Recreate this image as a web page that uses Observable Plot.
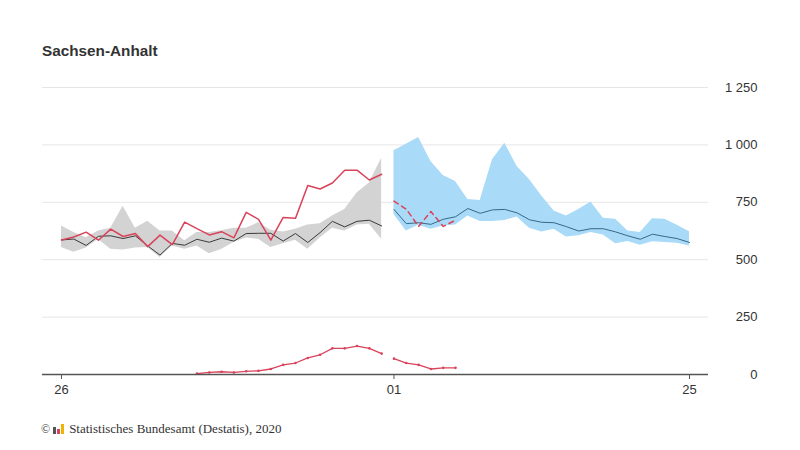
<!DOCTYPE html>
<html><head><meta charset="utf-8">
<script src="https://cdn.jsdelivr.net/npm/d3@7"></script>
<script src="https://cdn.jsdelivr.net/npm/@observablehq/plot@0.6"></script>
<style>
body{margin:0;background:#fff;font-family:"Liberation Sans",Arial,sans-serif;}
#title{position:absolute;left:42px;top:42px;font-size:15.3px;font-weight:bold;color:#333;}
#chart{position:absolute;left:0;top:70px;}
#caption{position:absolute;left:41px;top:421px;font-family:"Liberation Serif","Times New Roman",serif;font-size:13px;color:#333;display:flex;align-items:center;white-space:nowrap;}
#caption .c{font-size:12px;margin-right:3px;}
#caption svg{margin-right:4px;}
</style></head><body>
<div id="title">Sachsen-Anhalt</div>
<div id="chart"></div>
<div id="caption"><span class="c">©</span><svg width="12" height="10" viewBox="0 0 12 10"><rect x="0" y="3" width="3" height="7" fill="#555"/><rect x="4" y="5" width="3" height="5" fill="#d9435b"/><rect x="8" y="0" width="3" height="10" fill="#f0b400"/></svg>Statistisches Bundesamt (Destatis), 2020</div>
<script>
// weeks of the first half (previous year) and second half (following year)
const weeksLeft = [26,27,28,29,30,31,32,33,34,35,36,37,38,39,40,41,42,43,44,45,46,47,48,49,50,51,52];
const weeksRight = [1,2,3,4,5,6,7,8,9,10,11,12,13,14,15,16,17,18,19,20,21,22,23,24,25];

// range (min-max) and mean of earlier years, first half
const minLeft = [553,532,551,588,546,542,551,553,510,560,546,560,526,544,575,594,589,553,570,585,546,594,637,625,651,654,589];
const maxLeft = [647,618,596,625,637,733,637,668,625,625,582,618,618,626,637,637,661,628,621,633,651,657,690,719,791,834,942];
const avgLeft = [586,590,562,602,604,592,604,560,520,571,563,589,576,594,581,614,615,615,581,614,575,618,667,643,667,672,647];
// current year deaths, first half
const deathsLeft = [586,599,620,585,633,601,614,557,607,566,664,635,608,622,595,706,676,585,684,680,823,808,834,890,890,847,872];

// range (min-max) and mean of earlier years, second half
const minRight = [697,625,650,633,647,651,690,666,666,671,686,637,621,633,599,604,618,608,570,579,563,578,575,572,560];
const maxRight = [975,1003,1032,928,867,841,762,758,935,1007,906,849,777,712,690,719,751,680,676,625,618,678,676,650,622];
const avgRight = [719,657,661,654,676,687,723,702,717,719,704,674,663,661,644,625,635,635,621,604,589,611,601,592,575];
// preliminary deaths, second half (weeks 1-6)
const deathsRightWeeks = [1,2,3,4,5,6];
const deathsRight = [755,720,645,710,645,672];

// COVID-19 deaths
const covidWeeksLeft = [37,38,39,40,41,42,43,44,45,46,47,48,49,50,51,52];
const covidLeft = [4,9,12,9,14,16,24,42,50,72,86,114,114,124,114,91];
const covidWeeksRight = [1,2,3,4,5,6];
const covidRight = [69,50,42,24,29,29];

const yTicks = [0,250,500,750,1000,1250];
const xTickPos = [26, 1, 25];
const xTickLabels = ["26","01","25"];

// position along the axis: first half weeks 26..52, then weeks 1..25
const posL = w => w - 26;
const posR = w => 26 + w;
const xTicks = [posL(xTickPos[0]), posR(xTickPos[1]), posR(xTickPos[2])];

const left = weeksLeft.map((w,i)=>({x:posL(w), min:minLeft[i], max:maxLeft[i], avg:avgLeft[i], cur:deathsLeft[i]}));
const right = weeksRight.map((w,i)=>({x:posR(w), min:minRight[i], max:maxRight[i], avg:avgRight[i]}));
const curRight = deathsRightWeeks.map((w,i)=>({x:posR(w), y:deathsRight[i]}));
const covL = covidWeeksLeft.map((w,i)=>({x:posL(w), y:covidLeft[i]}));
const covR = covidWeeksRight.map((w,i)=>({x:posR(w), y:covidRight[i]}));

const red = "#d9435b";
const fmt = d => d3.format(",")(d).replace(/,/g, " ");

const chart = Plot.plot({
  width: 800,
  height: 340,
  marginLeft: 42,
  marginRight: 92,
  marginTop: 17,
  marginBottom: 36,
  style: {fontFamily: "'Liberation Sans', Arial, sans-serif", fontSize: "13px", color: "#333", background: "transparent"},
  x: {domain: [-1.543, 52.543], label: null},
  y: {domain: [0, 1250], label: null},
  marks: [
    Plot.ruleY(yTicks.filter(d => d > 0), {stroke: "#e6e6e6", strokeWidth: 1}),
    Plot.areaY(left, {x: "x", y1: "min", y2: "max", fill: "#d3d3d3", curve: "linear"}),
    Plot.areaY(right, {x: "x", y1: "min", y2: "max", fill: "#a9dbf8", curve: "linear"}),
    Plot.lineY(left, {x: "x", y: "avg", stroke: "#3a3a3a", strokeWidth: 1}),
    Plot.lineY(right, {x: "x", y: "avg", stroke: "#36698a", strokeWidth: 1}),
    Plot.lineY(left, {x: "x", y: "cur", stroke: red, strokeWidth: 1.5}),
    Plot.lineY(curRight, {x: "x", y: "y", stroke: red, strokeWidth: 1.5, strokeDasharray: "5,4"}),
    Plot.lineY(covL, {x: "x", y: "y", stroke: red, strokeWidth: 1.3}),
    Plot.lineY(covR, {x: "x", y: "y", stroke: red, strokeWidth: 1.3}),
    Plot.dot(covL, {x: "x", y: "y", r: 1.3, fill: red}),
    Plot.dot(covR, {x: "x", y: "y", r: 1.3, fill: red}),
    Plot.ruleY([0], {stroke: "#555", strokeWidth: 1.3}),
    Plot.axisX({ticks: xTicks, tickFormat: (d, i) => xTickLabels[i], tickSize: 5, tickPadding: 5, stroke: "#555", fill: "#333", label: null}),
    Plot.axisY({anchor: "right", ticks: yTicks, tickFormat: fmt, tickSize: 0, tickPadding: 49, textAnchor: "end", fill: "#333", label: null})
  ]
});
document.getElementById("chart").appendChild(chart);
</script>
</body></html>
